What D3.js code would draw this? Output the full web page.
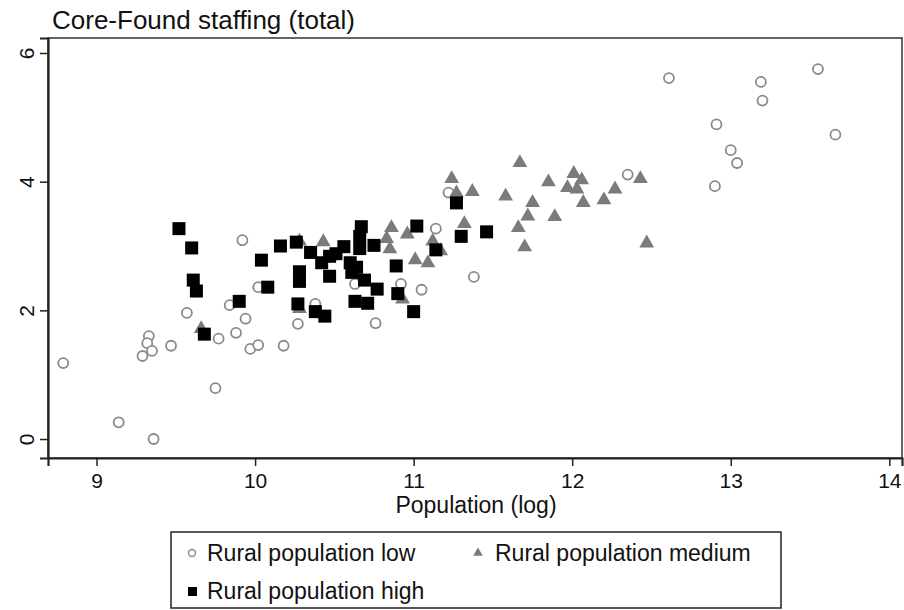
<!DOCTYPE html>
<html>
<head>
<meta charset="utf-8">
<script src="https://cdn.jsdelivr.net/npm/d3@7"></script>
<style>
  body { margin: 0; background: #fff; }
  text { font-family: "Liberation Sans", Arial, sans-serif; fill: #111; }
</style>
</head>
<body>
<svg id="scatter" width="904" height="610"></svg>
<script>
// population (log), staffing
var lowPoints = [
  [8.79,1.18],[9.14,0.26],[9.36,0.00],[9.29,1.29],[9.33,1.60],[9.32,1.49],[9.35,1.37],
  [9.47,1.45],[9.57,1.96],[9.75,0.79],[9.77,1.56],[9.84,2.08],[9.88,1.65],[9.92,3.09],
  [9.94,1.87],[9.97,1.40],[10.02,1.46],[10.02,2.36],[10.18,1.45],[10.27,1.79],[10.38,2.10],
  [10.63,2.41],[10.76,1.80],[10.92,2.41],[11.05,2.32],[11.14,3.27],[11.22,3.83],[11.38,2.52],
  [12.35,4.11],[12.61,5.61],[13.19,5.55],[13.20,5.26],[13.55,5.75],[12.91,4.89],[13.66,4.73],
  [13.00,4.49],[13.04,4.29],[12.90,3.93]
];
var mediumPoints = [
  [9.66,1.73],[10.28,3.09],[10.43,3.08],[10.28,2.04],[10.83,3.13],[10.86,3.30],[10.96,3.20],
  [10.85,2.97],[11.01,2.80],[11.09,2.75],[11.12,3.09],[11.17,2.94],[10.93,2.19],[11.24,4.06],
  [11.27,3.84],[11.37,3.86],[11.32,3.36],[11.67,4.31],[11.58,3.79],[11.75,3.69],[11.85,4.01],
  [11.72,3.48],[11.89,3.47],[11.66,3.30],[11.70,3.00],[12.01,4.14],[12.06,4.04],[11.97,3.92],
  [12.03,3.90],[12.07,3.69],[12.20,3.73],[12.27,3.90],[12.43,4.06],[12.47,3.06]
];
var highPoints = [
  [9.52,3.27],[9.60,2.97],[9.61,2.47],[9.63,2.30],[9.68,1.63],[9.90,2.14],[10.04,2.78],
  [10.08,2.36],[10.16,3.00],[10.26,3.06],[10.35,2.90],[10.28,2.60],[10.28,2.45],[10.27,2.10],
  [10.38,1.98],[10.44,1.91],[10.42,2.74],[10.47,2.84],[10.51,2.88],[10.56,2.99],[10.47,2.53],
  [10.67,3.30],[10.66,3.15],[10.66,2.96],[10.75,3.01],[10.60,2.74],[10.64,2.67],[10.61,2.59],
  [10.69,2.47],[10.77,2.33],[10.63,2.14],[10.71,2.11],[10.89,2.69],[10.90,2.26],[11.00,1.98],
  [11.02,3.31],[11.14,2.94],[11.27,3.67],[11.30,3.15],[11.46,3.22]
];
var xTicks = [9, 10, 11, 12, 13, 14];
var yTicks = [0, 2, 4, 6];
var legendLabels = ["Rural population low", "Rural population medium", "Rural population high"];

var svg = d3.select("#scatter"),
    margin = {top: 38, right: 2, bottom: 152, left: 48},
    width = +svg.attr("width") - margin.left - margin.right,
    height = +svg.attr("height") - margin.top - margin.bottom;

var x = d3.scaleLinear().domain([8.694, 14.08]).range([0, width]);
var y = d3.scaleLinear().domain([-0.295, 6.233]).range([height, 0]);

var g = svg.append("g")
    .attr("transform", "translate(" + margin.left + "," + margin.top + ")");

// plot region outline
g.append("rect")
    .attr("width", width).attr("height", height)
    .attr("fill", "none").attr("stroke", "#333").attr("stroke-width", 1.5);

var xAxis = g.append("g")
    .attr("transform", "translate(0," + height + ")")
    .call(d3.axisBottom(x).tickValues(xTicks).tickSize(8).tickPadding(7).tickFormat(d3.format("d")));
xAxis.select(".domain").attr("stroke", "#222").attr("stroke-width", 2.2);
xAxis.selectAll(".tick line").attr("stroke", "#222").attr("stroke-width", 1.5);
xAxis.selectAll(".tick text").style("font-size", "21px").attr("fill", "#111");

var yAxis = g.append("g")
    .call(d3.axisLeft(y).tickValues(yTicks).tickSize(8).tickFormat(d3.format("d")));
yAxis.select(".domain").attr("stroke", "#222").attr("stroke-width", 2.2);
yAxis.selectAll(".tick line").attr("stroke", "#222").attr("stroke-width", 1.5);
yAxis.selectAll(".tick text")
    .style("font-size", "21px").attr("fill", "#111")
    .attr("x", 0).attr("dy", null)
    .attr("transform", "translate(-22,0) rotate(-90)")
    .attr("text-anchor", "middle").attr("dominant-baseline", "central");

var tri = d3.symbol().type(d3.symbolTriangle).size(95);
var sq = 13;

g.selectAll(".low")
    .data(lowPoints)
  .enter().append("circle")
    .attr("class", "low")
    .attr("cx", function(d) { return x(d[0]); })
    .attr("cy", function(d) { return y(d[1]); })
    .attr("r", 5)
    .attr("fill", "#fff")
    .attr("stroke", "#8a8a8a")
    .attr("stroke-width", 1.8);

g.selectAll(".medium")
    .data(mediumPoints)
  .enter().append("path")
    .attr("class", "medium")
    .attr("d", tri)
    .attr("transform", function(d) { return "translate(" + x(d[0]) + "," + (y(d[1]) + 1) + ")"; })
    .attr("fill", "#7b7b7b");

g.selectAll(".high")
    .data(highPoints)
  .enter().append("rect")
    .attr("class", "high")
    .attr("x", function(d) { return x(d[0]) - sq / 2; })
    .attr("y", function(d) { return y(d[1]) - sq / 2; })
    .attr("width", sq).attr("height", sq)
    .attr("fill", "#000");

svg.append("text")
    .attr("x", 52).attr("y", 29)
    .style("font-size", "26px")
    .text("Core-Found staffing (total)");

svg.append("text")
    .attr("x", 476).attr("y", 513)
    .attr("text-anchor", "middle")
    .style("font-size", "23px")
    .text("Population (log)");

// legend
var legend = svg.append("g").attr("transform", "translate(171,532)");
legend.append("rect")
    .attr("width", 610).attr("height", 76)
    .attr("fill", "#fff").attr("stroke", "#222").attr("stroke-width", 1.5);

legend.append("circle")
    .attr("cx", 21).attr("cy", 21).attr("r", 3.5)
    .attr("fill", "#fff").attr("stroke", "#8a8a8a").attr("stroke-width", 1.4);
legend.append("text").attr("x", 36).attr("y", 29).style("font-size", "23px").text(legendLabels[0]);

legend.append("path")
    .attr("d", d3.symbol().type(d3.symbolTriangle).size(40))
    .attr("transform", "translate(307,21)")
    .attr("fill", "#7b7b7b");
legend.append("text").attr("x", 324).attr("y", 29).style("font-size", "23px").text(legendLabels[1]);

legend.append("rect")
    .attr("x", 17).attr("y", 55).attr("width", 9).attr("height", 9)
    .attr("fill", "#000");
legend.append("text").attr("x", 36).attr("y", 67).style("font-size", "23px").text(legendLabels[2]);
</script>
</body>
</html>
